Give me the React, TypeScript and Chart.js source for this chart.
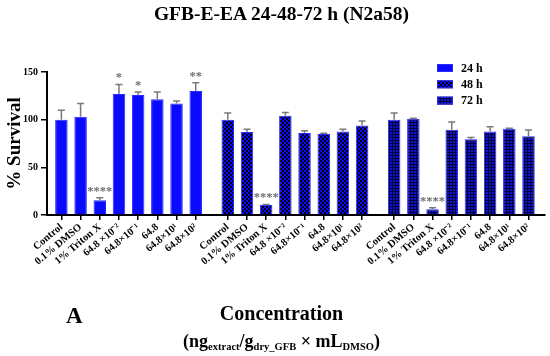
import React, { useEffect, useRef } from 'react';
import { Chart, registerables } from 'chart.js';

Chart.register(...registerables);

const categories = ['Control', '0.1% DMSO', '1% Triton X', '64.8 ×10⁻²', '64.8×10⁻¹', '64.8', '64.8×10¹', '64.8×10²'];
const seriesNames = ['24 h', '48 h', '72 h'];
const values24 = [100, 103, 15.5, 127, 126, 121.5, 117, 130];
const errors24 = [10, 14, 2.5, 10, 3, 7.5, 2.5, 8.7];
const stars24 = ['', '', '****', '*', '*', '', '', '**'];
const values48 = [100, 87, 10.5, 104, 86, 85, 87.5, 94];
const errors48 = [7, 3, 0.6, 3.5, 2.5, 0.7, 2.5, 4.6];
const stars48 = ['', '', '****', '', '', '', '', ''];
const values72 = [100, 101, 6, 89.5, 79.5, 87.5, 90.5, 82.5];
const errors72 = [7, 0.5, 1.7, 8, 1.7, 5, 0.5, 6.7];
const stars72 = ['', '', '****', '', '', '', '', ''];
const yTicks = [0, 50, 100, 150];

const GROUP_GAP = 0.67;
const FONT = "'Liberation Serif', 'Times New Roman', serif";

const series = [
  { name: seriesNames[0], values: values24, errors: errors24, stars: stars24 },
  { name: seriesNames[1], values: values48, errors: errors48, stars: stars48 },
  { name: seriesNames[2], values: values72, errors: errors72, stars: stars72 },
];

const pos = (g: number, i: number) => g * (categories.length + GROUP_GAP) + i;
const xPositions = series.flatMap((_, g) => categories.map((_c, i) => pos(g, i)));
const xLabels = series.flatMap(() => categories);

function makePattern(kind: number): CanvasPattern | string {
  const c = document.createElement('canvas');
  if (kind === 0) return '#0a0aff';
  if (kind === 1) {
    c.width = 4; c.height = 4;
    const g = c.getContext('2d')!;
    g.fillStyle = '#0a0aff';
    g.fillRect(0, 0, 4, 4);
    g.fillStyle = '#000010';
    g.fillRect(0, 0, 2, 2);
    g.fillRect(2, 2, 2, 2);
  } else {
    c.width = 3; c.height = 3;
    const g = c.getContext('2d')!;
    g.fillStyle = '#000038';
    g.fillRect(0, 0, 3, 3);
    g.fillStyle = '#1414d0';
    g.fillRect(0, 0, 2, 2);
  }
  const p = document.createElement('canvas').getContext('2d')!.createPattern(c, 'repeat');
  return p || '#0a0aff';
}

export default function App() {
  const ref = useRef<HTMLCanvasElement | null>(null);

  useEffect(() => {
    if (!ref.current) return;
    const fills = series.map((_, g) => makePattern(g));

    const overlay = {
      id: 'overlay',
      afterDatasetsDraw(chart: any) {
        const ctx = chart.ctx as CanvasRenderingContext2D;
        const ys = chart.scales.y;
        ctx.save();
        series.forEach((s, d) => {
          const meta = chart.getDatasetMeta(d);
          meta.data.forEach((bar: any, i: number) => {
            const top = ys.getPixelForValue(s.values[i] + s.errors[i]);
            ctx.strokeStyle = '#7a7a7a';
            ctx.lineWidth = 1.5;
            ctx.beginPath();
            ctx.moveTo(bar.x, bar.y);
            ctx.lineTo(bar.x, top);
            ctx.moveTo(bar.x - 3.5, top);
            ctx.lineTo(bar.x + 3.5, top);
            ctx.stroke();
            if (s.stars[i]) {
              ctx.fillStyle = '#6e6e6e';
              ctx.font = `bold 12.5px ${FONT}`;
              ctx.textAlign = 'center';
              ctx.textBaseline = 'alphabetic';
              ctx.fillText(s.stars[i], bar.x, top - 3);
            }
          });
        });
        // legend
        series.forEach((s, d) => {
          const cy = 68 + d * 16.3;
          ctx.fillStyle = fills[d] as any;
          ctx.fillRect(437, cy - 4, 16, 8);
          ctx.strokeStyle = '#2a2aff';
          ctx.lineWidth = 1;
          ctx.strokeRect(437.5, cy - 3.5, 15, 7);
          ctx.fillStyle = '#000';
          ctx.font = `bold 12px ${FONT}`;
          ctx.textAlign = 'left';
          ctx.textBaseline = 'middle';
          ctx.fillText(s.name, 461, cy + 0.5);
        });
        ctx.restore();
      },
    };

    const chart = new Chart(ref.current, {
      type: 'bar',
      data: {
        datasets: series.map((s, g) => ({
          label: s.name,
          data: s.values.map((v, i) => ({ x: pos(g, i), y: v })),
          backgroundColor: fills[g] as any,
          borderColor: '#2a2aff',
          borderWidth: 1,
          grouped: false,
          maxBarThickness: 12.5,
        })),
      },
      options: {
        animation: false,
        responsive: false,
        devicePixelRatio: 1,
        layout: { padding: { top: 72, right: 5, left: 0, bottom: 0 } },
        plugins: { legend: { display: false }, tooltip: { enabled: false }, title: { display: false } },
        scales: {
          x: {
            type: 'linear',
            offset: false,
            min: -0.75,
            max: pos(2, 7) + 0.86,
            afterBuildTicks: (s: any) => {
              s.ticks = xPositions.map((v) => ({ value: v }));
            },
            afterFit: (s: any) => {
              s.height = 141;
              s.paddingLeft = 0;
              s.paddingRight = 0;
            },
            ticks: {
              autoSkip: false,
              minRotation: 40,
              maxRotation: 40,
              padding: 1,
              color: '#000',
              font: { family: FONT, size: 10.5, weight: 'bold' },
              callback: (_v: any, i: number) => xLabels[i],
            },
            grid: { offset: false, drawOnChartArea: false, drawTicks: true, tickLength: 5, color: '#000', lineWidth: 1.5 },
            border: { color: '#000', width: 2 },
          },
          y: {
            min: 0,
            max: 150,
            afterBuildTicks: (s: any) => {
              s.ticks = yTicks.map((v) => ({ value: v }));
            },
            afterFit: (s: any) => {
              s.width = 47;
            },
            ticks: { color: '#000', padding: 3, font: { family: FONT, size: 10, weight: 'bold' } },
            grid: { drawOnChartArea: false, drawTicks: true, tickLength: 6, color: '#000', lineWidth: 1.5 },
            border: { color: '#000', width: 2 },
            title: {
              display: true,
              text: '% Survival',
              color: '#000',
              font: { family: FONT, size: 19, weight: 'bold' },
              padding: { top: 4, bottom: 0 },
            },
          },
        },
      },
      plugins: [overlay],
    } as any);
    return () => chart.destroy();
  }, []);

  const txt: React.CSSProperties = {
    position: 'absolute',
    fontFamily: FONT,
    fontWeight: 'bold',
    color: '#000',
    whiteSpace: 'nowrap',
    margin: 0,
  };
  const sub: React.CSSProperties = { fontSize: '10.5px', verticalAlign: '-3px', lineHeight: 0 };

  return (
    <div style={{ position: 'fixed', left: 0, top: 0, width: 550, height: 356, background: '#fff' }}>
      <canvas ref={ref} width={550} height={356} style={{ display: 'block', width: 550, height: 356 }} />
      <div style={{ ...txt, left: 81.5, width: 400, top: 4, fontSize: 19.5, lineHeight: '20px', textAlign: 'center' }}>
        GFB-E-EA 24-48-72 h (N2a58)
      </div>
      <div style={{ ...txt, left: 66, top: 304, fontSize: 23, lineHeight: '23px' }}>A</div>
      <div style={{ ...txt, left: 81.5, width: 400, top: 303, fontSize: 20, lineHeight: '20px', textAlign: 'center' }}>
        Concentration
      </div>
      <div style={{ ...txt, left: 81.5, width: 400, top: 331, fontSize: 18, lineHeight: '20px', textAlign: 'center' }}>
        (ng<span style={sub}>extract</span>/g<span style={sub}>dry_GFB</span> × mL<span style={sub}>DMSO</span>)
      </div>
    </div>
  );
}
